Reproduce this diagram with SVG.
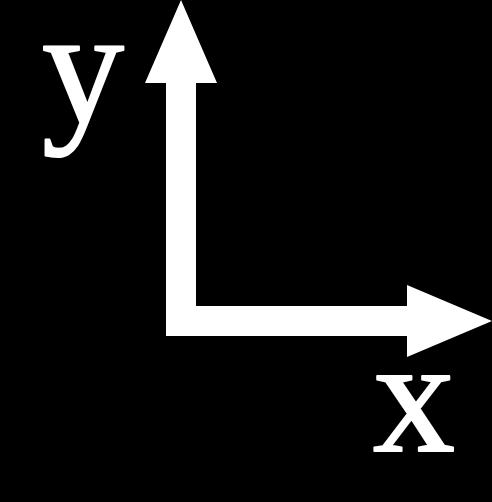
<svg xmlns="http://www.w3.org/2000/svg" width="492" height="502" viewBox="0 0 492 502">
<style>
.ax{fill:#fff;stroke:none}
.lbl{font-family:"Liberation Serif","Times New Roman",serif;font-size:164px;fill:#fff;stroke:#fff;stroke-width:2;stroke-linejoin:round}
</style>
<rect width="492" height="502" fill="#000"/>
<g id="connectors">
<path class="ax" d="M166,336 L166,83 L145,83 L181,0 L217,83 L196,83 L196,306 L407,306 L407,285 L492,321 L407,357 L407,336 Z"/>
</g>
<g id="label-y"><text class="lbl" x="42" y="122">y</text></g>
<g id="label-x"><text class="lbl" x="373" y="451">x</text></g>
</svg>
